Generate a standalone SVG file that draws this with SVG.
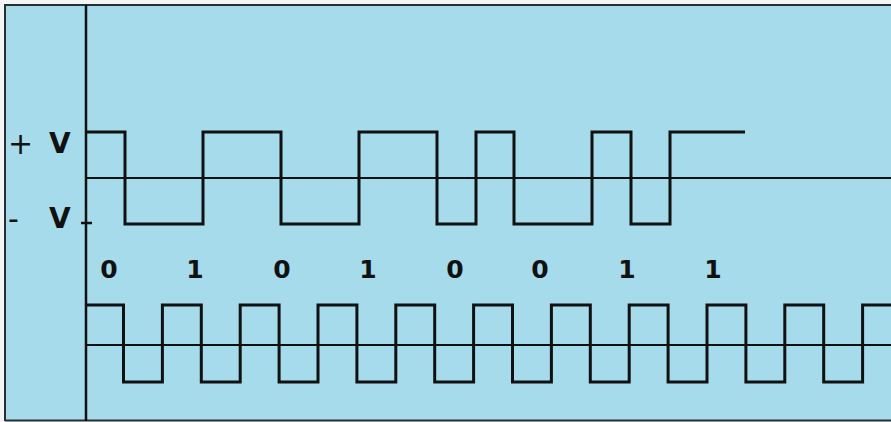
<svg xmlns="http://www.w3.org/2000/svg" width="891" height="422" viewBox="0 0 891 422">
<style>
.bg{fill:#a5dbeb}
.frame{stroke:#2a2f36;stroke-width:2;fill:none}
.axis{stroke:#111;stroke-width:2.5;fill:none}
.mid{stroke:#111;stroke-width:2;fill:none}
.wave{stroke:#111;stroke-width:3;fill:none;stroke-linejoin:miter}
.lbl{font-family:"DejaVu Sans","Liberation Sans",sans-serif;font-weight:bold;fill:#111}
.lv{font-size:28px}
.sg{font-weight:normal;font-size:30px}
.bit{font-size:25px;text-anchor:middle}
</style>
<rect x="0" y="0" width="891" height="422" fill="#f4f6f6"/>
<rect class="bg" x="5" y="5" width="886" height="416"/>
<g id="frame">
<path class="frame" d="M5,421 V5 H891"/>
<line class="frame" x1="5" y1="420.5" x2="891" y2="420.5"/>
<line class="axis" x1="86" y1="5" x2="86" y2="421"/>
<line class="axis" x1="81" y1="223" x2="92" y2="223"/>
</g>
<g id="labels">
<text class="lbl sg" x="8" y="154">+</text>
<text class="lbl lv" x="49" y="153">V</text>
<text class="lbl sg" x="8" y="229">-</text>
<text class="lbl lv" x="49" y="228">V</text>
</g>
<g id="bits">
<text class="lbl bit" x="109" y="278">0</text>
<text class="lbl bit" x="195" y="278">1</text>
<text class="lbl bit" x="282" y="278">0</text>
<text class="lbl bit" x="368" y="278">1</text>
<text class="lbl bit" x="455" y="278">0</text>
<text class="lbl bit" x="540" y="278">0</text>
<text class="lbl bit" x="627" y="278">1</text>
<text class="lbl bit" x="713" y="278">1</text>
</g>
<g id="connectors">
<line class="mid" x1="86" y1="178" x2="891" y2="178"/>
<line class="mid" x1="86" y1="345" x2="891" y2="345"/>
<path id="data-wave" class="wave" d="M86,132 H125 V224 H203 V132 H281 V224 H359 V132 H437 V224 H476 V132 H514 V224 H592 V132 H631 V224 H670 V132 H745"/>
<path id="clock-wave" class="wave" d="M86,305 H123.5 V382 H162.4 V305 H201.3 V382 H240.2 V305 H279.1 V382 H318 V305 H356.9 V382 H395.8 V305 H434.7 V382 H473.6 V305 H512.5 V382 H551.4 V305 H590.3 V382 H629.2 V305 H668.1 V382 H707 V305 H745.9 V382 H784.8 V305 H823.7 V382 H862.6 V305 H891"/>
</g>
</svg>
